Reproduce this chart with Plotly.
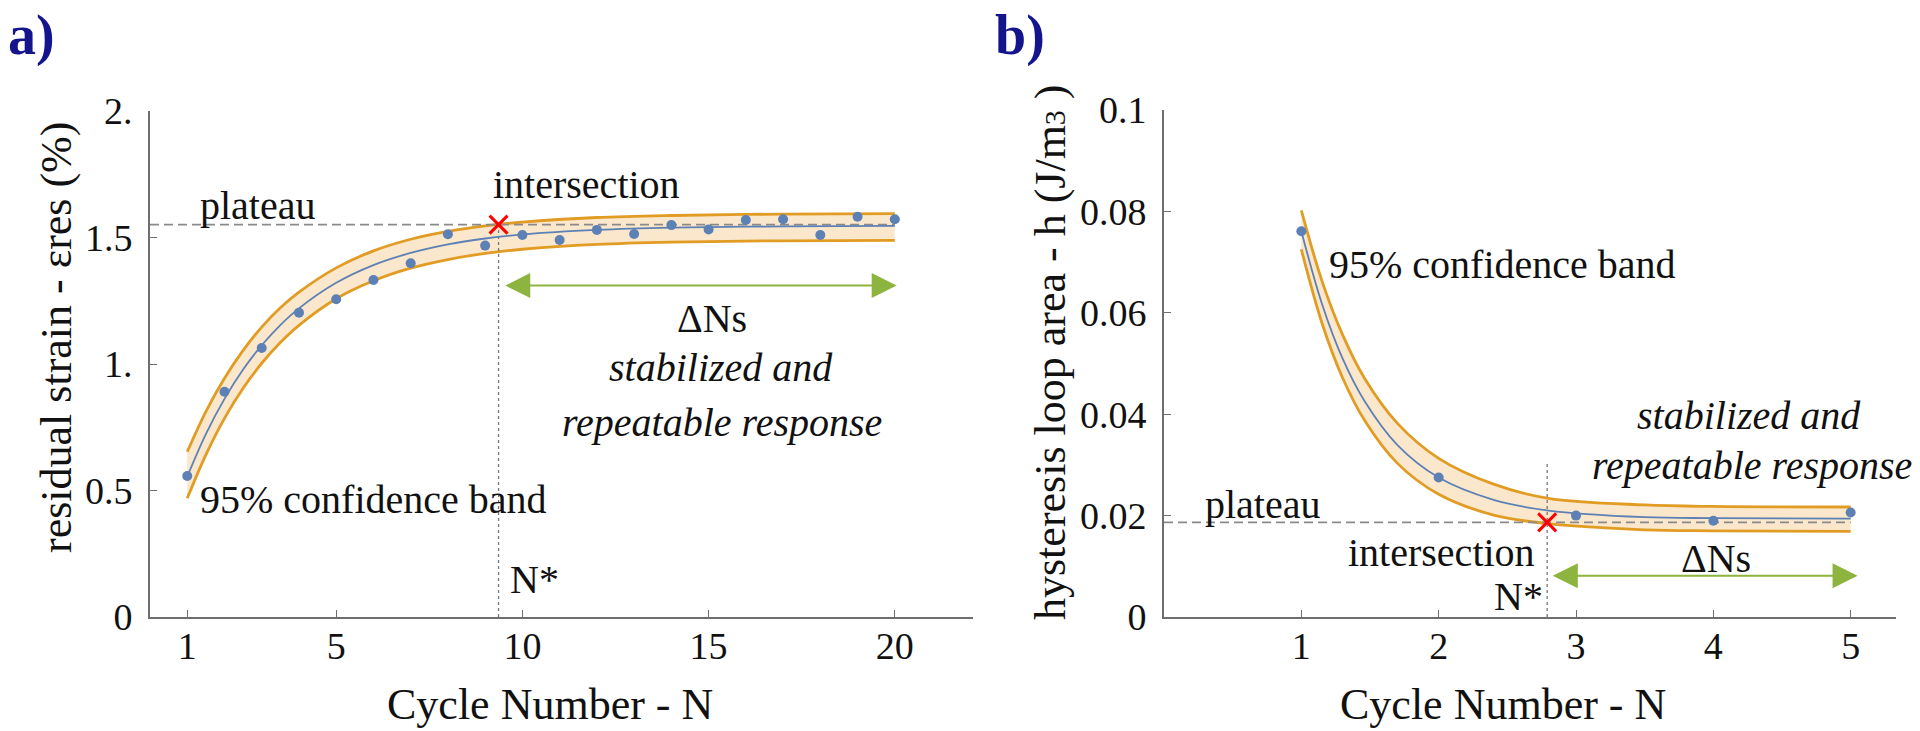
import plotly.graph_objects as go

# ---------------- data: panel a (residual strain) ----------------
cycles_a = list(range(1, 21))
strain_a = [0.557, 0.89, 1.063, 1.203, 1.256, 1.332, 1.398, 1.513, 1.468, 1.510,
            1.490, 1.530, 1.514, 1.549, 1.532, 1.569, 1.572, 1.510, 1.582, 1.572]
curve_n_a = [1, 1.5, 2, 2.5, 3, 3.5, 4, 5, 6, 7, 8, 9, 10, 12, 14, 17, 20]
fit_a = [0.555, 0.723, 0.862, 0.978, 1.074, 1.154, 1.220, 1.321, 1.391, 1.439, 1.473,
         1.496, 1.512, 1.530, 1.539, 1.544, 1.546]
upper_a = [0.653, 0.812, 0.944, 1.054, 1.146, 1.222, 1.284, 1.380, 1.447, 1.493, 1.524,
           1.546, 1.561, 1.579, 1.587, 1.5925, 1.594]
lower_a = [0.469, 0.641, 0.785, 0.904, 1.003, 1.085, 1.153, 1.258, 1.329, 1.379, 1.413,
           1.437, 1.4535, 1.4726, 1.4817, 1.487, 1.489]
plateau_a = 1.551
nstar_a = 9.36
arrow_a = [9.5, 20.05, 1.31]          # x start, x end, y
xticks_a = [1, 5, 10, 15, 20]
yticks_a = [0, 0.5, 1, 1.5, 2]
yticktext_a = ["0", "0.5", "1.", "1.5", "2."]

# ---------------- data: panel b (hysteresis loop area) ----------------
cycles_b = [1, 2, 3, 4, 5]
h_b = [0.0761, 0.0275, 0.0200, 0.0190, 0.0206]
curve_n_b = [1, 1.15, 1.3, 1.46, 1.7, 2.0, 2.4, 2.8, 3.5, 4, 5]
fit_b = [0.0761, 0.0618, 0.0510, 0.0426, 0.0339, 0.0275, 0.0231, 0.0210, 0.0197, 0.0195, 0.0194]
upper_b = [0.0802, 0.0663, 0.0557, 0.0471, 0.0382, 0.0313, 0.0262, 0.0234, 0.0221, 0.0218, 0.0217]
lower_b = [0.0725, 0.0580, 0.0472, 0.0388, 0.0303, 0.0242, 0.0201, 0.0184, 0.0172, 0.0170, 0.0169]
plateau_b = 0.01866
nstar_b = 2.79
nstar_top_b = 0.0306
arrow_b = [2.82, 5.05, 0.00814]
xticks_b = [1, 2, 3, 4, 5]
yticks_b = [0, 0.02, 0.04, 0.06, 0.08, 0.1]
yticktext_b = ["0", "0.02", "0.04", "0.06", "0.08", "0.1"]

# ---------------- styles ----------------
FONT = "Liberation Serif, Times New Roman, serif"
BLUE = "#5E81B5"
ORANGE = "#E19C24"
FILL = "rgba(236,160,50,0.25)"
GREEN = "#8DB43E"
GRAY = "#8a8a8a"
AXIS = "#6e6e6e"

fig = go.Figure()


def add_panel(xr, yr, n_pts, v_pts, n_c, fit, up, lo, plateau, nstar, vtop):
    fig.add_trace(go.Scatter(x=n_c, y=lo, mode="lines", line=dict(color=ORANGE, width=2.8, shape="spline"),
                             xaxis=xr, yaxis=yr, showlegend=False, hoverinfo="skip"))
    fig.add_trace(go.Scatter(x=n_c, y=up, mode="lines", line=dict(color=ORANGE, width=2.8, shape="spline"),
                             fill="tonexty", fillcolor=FILL,
                             xaxis=xr, yaxis=yr, showlegend=False, hoverinfo="skip"))
    fig.add_trace(go.Scatter(x=[0, n_c[-1]], y=[plateau, plateau], mode="lines",
                             line=dict(color=GRAY, width=1.8, dash="9px,5px"),
                             xaxis=xr, yaxis=yr, showlegend=False, hoverinfo="skip"))
    fig.add_trace(go.Scatter(x=[nstar, nstar], y=[0, vtop], mode="lines",
                             line=dict(color="#777777", width=1.3, dash="3px,3px"),
                             xaxis=xr, yaxis=yr, showlegend=False, hoverinfo="skip"))
    fig.add_trace(go.Scatter(x=n_c, y=fit, mode="lines", line=dict(color=BLUE, width=1.8, shape="spline"),
                             xaxis=xr, yaxis=yr, showlegend=False, hoverinfo="skip"))
    fig.add_trace(go.Scatter(x=n_pts, y=v_pts, mode="markers", marker=dict(color=BLUE, size=10),
                             xaxis=xr, yaxis=yr, showlegend=False))
    fig.add_trace(go.Scatter(x=[nstar], y=[plateau], mode="markers",
                             marker=dict(symbol="x-thin", size=18, line=dict(color="red", width=3)),
                             xaxis=xr, yaxis=yr, showlegend=False))


add_panel("x", "y", cycles_a, strain_a, curve_n_a, fit_a, upper_a, lower_a,
          plateau_a, nstar_a, plateau_a)
add_panel("x2", "y2", cycles_b, h_b, curve_n_b, fit_b, upper_b, lower_b,
          plateau_b, nstar_b, nstar_top_b)

axis_common = dict(showline=True, linecolor=AXIS, linewidth=2, ticks="inside", ticklen=7,
                   tickwidth=1.2, tickcolor=AXIS, showgrid=False, zeroline=False, automargin=False,
                   tickfont=dict(family=FONT, size=38, color="#111"))

fig.update_layout(
    width=1920, height=731, autosize=False,
    margin=dict(l=0, r=0, t=0, b=0, pad=0, autoexpand=False),
    paper_bgcolor="white", plot_bgcolor="white",
    xaxis=dict(domain=[150 / 1920, 973 / 1920], range=[0, 22.1], tickvals=xticks_a,
               ticklabelstandoff=-6, **axis_common),
    yaxis=dict(domain=[(731 - 617) / 731, (731 - 111) / 731], range=[0, 2.0], tickvals=yticks_a,
               ticktext=yticktext_a, ticklabelstandoff=8, **axis_common),
    xaxis2=dict(domain=[1164 / 1920, 1896 / 1920], range=[0, 5.33], tickvals=xticks_b,
                ticklabelstandoff=-6, anchor="y2", **axis_common),
    yaxis2=dict(domain=[(731 - 617) / 731, (731 - 110) / 731], range=[0, 0.1], tickvals=yticks_b,
                ticktext=yticktext_b, ticklabelstandoff=8, anchor="x2", **axis_common),
)

ann = []
TXT = dict(family=FONT, size=40, color="#111")


def note(text, x, y, xr, yr, xanchor="center", italic=False):
    ann.append(dict(text=("<i>%s</i>" % text) if italic else text, x=x, y=y, xref=xr, yref=yr,
                    showarrow=False, xanchor=xanchor, yanchor="middle", font=TXT))


# panel a notes
note("plateau", 2.91, 1.625, "x", "y")
note("intersection", 11.71, 1.71, "x", "y")
note("ΔNs", 15.09, 1.18, "x", "y")
note("stabilized and", 15.33, 0.985, "x", "y", italic=True)
note("repeatable response", 15.36, 0.77, "x", "y", italic=True)
note("95% confidence band", 1.30, 0.465, "x", "y", xanchor="left")
note("N*", 9.62, 0.15, "x", "y", xanchor="left")
# panel b notes
note("95% confidence band", 1.185, 0.0695, "x2", "y2", xanchor="left")
note("plateau", 0.72, 0.0222, "x2", "y2")
note("intersection", 2.02, 0.0128, "x2", "y2")
note("ΔNs", 4.02, 0.0116, "x2", "y2")
note("N*", 2.58, 0.0040, "x2", "y2")
note("stabilized and", 4.26, 0.0398, "x2", "y2", italic=True)
note("repeatable response", 4.28, 0.0298, "x2", "y2", italic=True)

# double-headed arrows
for (x0, x1, yv), xr, yr in [(arrow_a, "x", "y"), (arrow_b, "x2", "y2")]:
    ann.append(dict(x=x1, y=yv, ax=x0, ay=yv, xref=xr, yref=yr, axref=xr, ayref=yr,
                    text="", showarrow=True, arrowhead=2, startarrowhead=2, arrowside="end+start",
                    arrowsize=2.5, startarrowsize=2.5, arrowwidth=2, arrowcolor=GREEN))

# axis titles
TITLE = dict(family=FONT, size=44, color="#111")
ann.append(dict(text="Cycle Number - N", x=550 / 1920, y=(731 - 704) / 731, xref="paper", yref="paper",
                showarrow=False, xanchor="center", yanchor="middle", font=TITLE))
ann.append(dict(text="Cycle Number - N", x=1503 / 1920, y=(731 - 704) / 731, xref="paper", yref="paper",
                showarrow=False, xanchor="center", yanchor="middle", font=TITLE))
ann.append(dict(text="residual strain - εres (%)", x=56 / 1920, y=(731 - 338) / 731, xref="paper",
                yref="paper", showarrow=False, textangle=-90, xanchor="center", yanchor="middle", font=TITLE))
ann.append(dict(text="hysteresis loop area - h (J/m<span style='font-size:30px'>3</span> )",
                x=1050 / 1920, y=(731 - 352) / 731, xref="paper", yref="paper", showarrow=False,
                textangle=-90, xanchor="center", yanchor="middle", font=TITLE))
# panel labels
LBL = dict(family=FONT, size=56, color="#14148C")
ann.append(dict(text="<b>a)</b>", x=31 / 1920, y=(731 - 35) / 731, xref="paper", yref="paper",
                showarrow=False, xanchor="center", yanchor="middle", font=LBL))
ann.append(dict(text="<b>b)</b>", x=1020 / 1920, y=(731 - 35) / 731, xref="paper", yref="paper",
                showarrow=False, xanchor="center", yanchor="middle", font=LBL))

fig.update_layout(annotations=ann)
fig.write_html("out.html", config={"displayModeBar": False},
               post_script="document.body.style.margin='0';document.body.style.overflow='hidden';")
